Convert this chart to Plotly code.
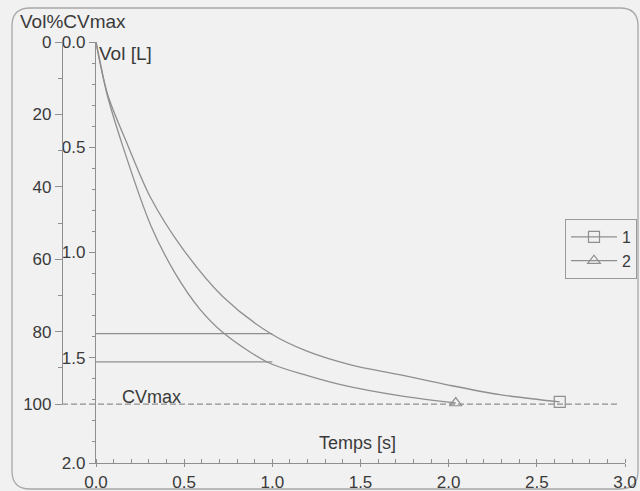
import plotly.graph_objects as go

# ---- data ----
t1 = [0.00, 0.02, 0.07, 0.18, 0.31, 0.49, 0.72, 0.99, 1.20, 1.45, 1.72, 2.00, 2.29, 2.63]
v1 = [0.00, 0.09, 0.26, 0.49, 0.74, 0.98, 1.21, 1.385, 1.47, 1.535, 1.58, 1.63, 1.675, 1.71]

t2 = [0.00, 0.02, 0.06, 0.15, 0.31, 0.45, 0.59, 0.72, 0.97, 1.20, 1.40, 1.72, 2.04]
v2 = [0.00, 0.08, 0.24, 0.49, 0.87, 1.10, 1.27, 1.38, 1.52, 1.585, 1.63, 1.68, 1.715]

fev_time = [0.0, 1.0]
fev1_values = [1.385, 1.52]

CVMAX = 1.72          # litres -> 100 %
VOL_MAX = 2.0
T_MAX = 3.0
series_names = ["1", "2"]
x_ticks = [0.0, 0.5, 1.0, 1.5, 2.0, 2.5, 3.0]
vol_ticks = [0.0, 0.5, 1.0, 1.5, 2.0]
pct_ticks = [0, 20, 40, 60, 80, 100]

# ---- layout geometry (pixels) ----
W, H = 640, 491
ML, MR, MT, MB = 10, 15, 42, 28
PW = W - ML - MR
PH = H - MT - MB


def px_x(px):
    return (px - ML) / PW


def px_y(py):
    return (H - MB - py) / PH


LINE = "#8f8f8f"
TXT = "#3a3a3a"
BG = "#f1f1f1"
FONT = "Liberation Sans, Arial, sans-serif"

fig = go.Figure()

# invisible trace to create the %CVmax axis (added first so it sits beneath)
fig.add_trace(go.Scatter(x=[None], y=[None], yaxis="y2", showlegend=False,
                         hoverinfo="skip"))

# FEV1 horizontal lines
for fv in fev1_values:
    fig.add_trace(go.Scatter(x=fev_time, y=[fv, fv], mode="lines",
                             line=dict(color=LINE, width=1.2),
                             showlegend=False, hoverinfo="skip"))

# curves
for tt, vv in [(t1, v1), (t2, v2)]:
    fig.add_trace(go.Scatter(x=tt, y=vv, mode="lines",
                             line=dict(color=LINE, width=1.3, shape="spline",
                                       smoothing=0.9),
                             showlegend=False))

# end markers
symbols = ["square-open", "triangle-up-open"]
for (tt, vv), sym in zip([(t1, v1), (t2, v2)], symbols):
    fig.add_trace(go.Scatter(x=[tt[-1]], y=[vv[-1]], mode="markers",
                             marker=dict(symbol=sym, size=11, color=LINE,
                                         line=dict(color=LINE, width=1.2)),
                             showlegend=False))

# legend entries
for name, sym in zip(series_names, symbols):
    fig.add_trace(go.Scatter(x=[None], y=[None], mode="lines+markers", name=name,
                             line=dict(color=LINE, width=1.2),
                             marker=dict(symbol=sym, size=11, color=LINE,
                                         line=dict(color=LINE, width=1.2))))

x_dom0 = px_x(96)
axis_common = dict(showgrid=False, zeroline=False, showline=True,
                   linecolor=LINE, linewidth=1.2, tickcolor=LINE,
                   tickfont=dict(family=FONT, size=17, color=TXT))

fig.update_layout(
    width=W, height=H,
    margin=dict(l=ML, r=MR, t=MT, b=MB, autoexpand=False),
    paper_bgcolor=BG, plot_bgcolor="rgba(0,0,0,0)",
    xaxis=dict(domain=[x_dom0, 1], range=[0, T_MAX], tickvals=x_ticks,
               tickformat=".1f", ticks="outside", ticklen=3,
               minor=dict(dtick=0.1, ticks="inside", ticklen=4, tickcolor=LINE),
               anchor="y", **axis_common),
    yaxis=dict(domain=[0, 1], range=[VOL_MAX, 0], tickvals=vol_ticks,
               tickformat=".1f", ticks="outside", ticklen=6,
               minor=dict(dtick=0.1, ticks="outside", ticklen=3, tickcolor=LINE),
               anchor="x", **axis_common),
    yaxis2=dict(domain=[1 - CVMAX / VOL_MAX, 1], range=[100, 0], tickvals=pct_ticks,
                ticks="outside", ticklen=7,
                minor=dict(dtick=10, ticks="outside", ticklen=4, tickcolor=LINE),
                anchor="free", position=px_x(62), side="left", **axis_common),
    legend=dict(x=px_x(565), y=px_y(219), xanchor="left", yanchor="top",
                bgcolor=BG, bordercolor="#9a9a9a", borderwidth=1,
                font=dict(family=FONT, size=16, color=TXT),
                itemwidth=46, tracegroupgap=0),
    showlegend=True,
)

# CVmax dashed line
fig.add_shape(type="line", xref="paper", yref="y",
              x0=px_x(62), x1=px_x(620), y0=CVMAX, y1=CVMAX,
              line=dict(color=LINE, width=1.2, dash="6px,3px"))

# rounded border
x0, x1 = px_x(12), px_x(638)
y0, y1 = px_y(489), px_y(8)
rx, ry = 18 / PW, 18 / PH
path = (f"M {x0 + rx},{y1} L {x1 - rx},{y1} Q {x1},{y1} {x1},{y1 - ry} "
        f"L {x1},{y0 + ry} Q {x1},{y0} {x1 - rx},{y0} "
        f"L {x0 + rx},{y0} Q {x0},{y0} {x0},{y0 + ry} "
        f"L {x0},{y1 - ry} Q {x0},{y1} {x0 + rx},{y1} Z")
fig.add_shape(type="path", xref="paper", yref="paper", path=path,
              line=dict(color="#a8a8a8", width=1.3), layer="below")

big_font = dict(family=FONT, size=19, color=TXT)
ann_font = dict(family=FONT, size=18, color=TXT)
fig.add_annotation(text="Vol%CVmax", xref="paper", yref="paper",
                   x=px_x(18), y=px_y(21), xanchor="left", yanchor="middle",
                   showarrow=False, font=big_font)
fig.add_annotation(text="Vol [L]", xref="paper", yref="paper",
                   x=px_x(97), y=px_y(54), xanchor="left", yanchor="middle",
                   showarrow=False, font=big_font)
fig.add_annotation(text="Temps [s]", xref="paper", yref="paper",
                   x=px_x(358), y=px_y(443), xanchor="center", yanchor="middle",
                   showarrow=False, font=ann_font)
fig.add_annotation(text="CVmax", xref="paper", yref="y",
                   x=px_x(120), y=CVMAX, xanchor="left", yanchor="middle",
                   yshift=7, showarrow=False, font=ann_font)

fig.write_html("out.html", config={"displayModeBar": False},
               post_script="document.body.style.margin='0';"
                           "document.body.style.background='" + BG + "';")
